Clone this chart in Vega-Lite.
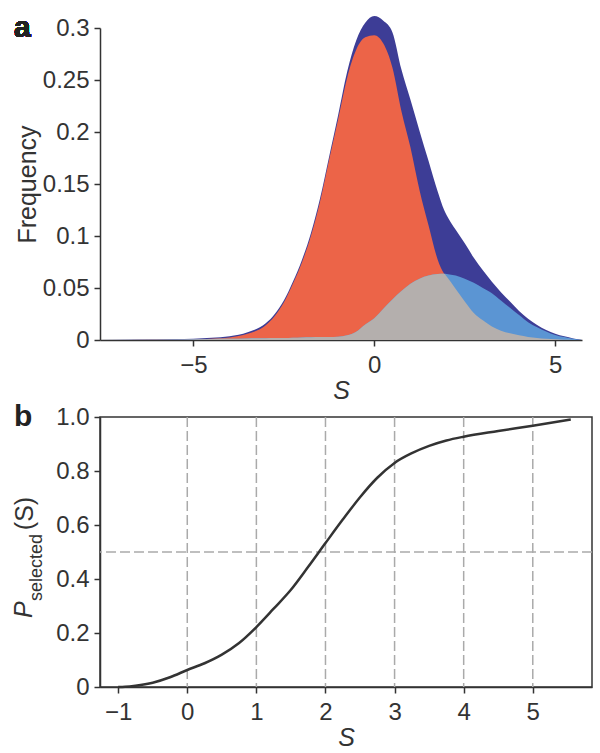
{
  "$schema": "https://vega.github.io/schema/vega-lite/v6.json",
  "autosize": {"type": "pad"},
  "padding": {"left": 11, "top": 13, "right": 0, "bottom": 0},
  "bounds": "flush",
  "spacing": 77,
  "background": "white",
  "config": {
    "font": "Liberation Sans",
    "view": {"stroke": null},
    "axis": {
      "domainColor": "#333333", "domainWidth": 1.5,
      "tickColor": "#333333", "tickWidth": 1.5, "tickSize": 6,
      "labelFont": "Liberation Sans", "labelFontSize": 24, "labelColor": "#333333",
      "labelPadding": 5, "labelFlush": false, "labelOverlap": false,
      "titleFont": "Liberation Sans", "titleFontSize": 25, "titleFontWeight": "normal", "titleColor": "#333333",
      "grid": false
    },
    "axisX": {"titleFontStyle": "italic", "titlePadding": 1, "labelPadding": 7},
    "axisY": {"titlePadding": 2}
  },
  "datasets": {
    "dist": [
      {"S": -7.58, "total": 0, "unsel": 0, "sel": 0, "both": 0},
      {"S": -6, "total": 0.0005, "unsel": 0.0002, "sel": 0.0003, "both": 0.0002},
      {"S": -5, "total": 0.0012, "unsel": 0.0005, "sel": 0.0007, "both": 0.0005},
      {"S": -4.5, "total": 0.0022, "unsel": 0.0012, "sel": 0.001, "both": 0.001},
      {"S": -4, "total": 0.0037, "unsel": 0.0025, "sel": 0.0012, "both": 0.0012},
      {"S": -3.5, "total": 0.0075, "unsel": 0.006, "sel": 0.0015, "both": 0.0015},
      {"S": -3, "total": 0.016, "unsel": 0.0142, "sel": 0.0018, "both": 0.0018},
      {"S": -2.75, "total": 0.025, "unsel": 0.023, "sel": 0.002, "both": 0.002},
      {"S": -2.5, "total": 0.038, "unsel": 0.036, "sel": 0.002, "both": 0.002},
      {"S": -2.25, "total": 0.056, "unsel": 0.054, "sel": 0.0022, "both": 0.0022},
      {"S": -2, "total": 0.077, "unsel": 0.0745, "sel": 0.0025, "both": 0.0025},
      {"S": -1.75, "total": 0.103, "unsel": 0.1003, "sel": 0.0027, "both": 0.0027},
      {"S": -1.5, "total": 0.136, "unsel": 0.133, "sel": 0.003, "both": 0.003},
      {"S": -1.25, "total": 0.176, "unsel": 0.173, "sel": 0.003, "both": 0.003},
      {"S": -1, "total": 0.216, "unsel": 0.212, "sel": 0.0032, "both": 0.0032},
      {"S": -0.75, "total": 0.258, "unsel": 0.252, "sel": 0.0045, "both": 0.0045},
      {"S": -0.5, "total": 0.288, "unsel": 0.279, "sel": 0.008, "both": 0.008},
      {"S": -0.25, "total": 0.305, "unsel": 0.291, "sel": 0.015, "both": 0.015},
      {"S": 0, "total": 0.3115, "unsel": 0.293, "sel": 0.021, "both": 0.021},
      {"S": 0.25, "total": 0.307, "unsel": 0.285, "sel": 0.030, "both": 0.030},
      {"S": 0.5, "total": 0.296, "unsel": 0.262, "sel": 0.039, "both": 0.039},
      {"S": 0.75, "total": 0.260, "unsel": 0.220, "sel": 0.047, "both": 0.047},
      {"S": 1, "total": 0.231, "unsel": 0.185, "sel": 0.054, "both": 0.054},
      {"S": 1.25, "total": 0.201, "unsel": 0.144, "sel": 0.059, "both": 0.059},
      {"S": 1.5, "total": 0.172, "unsel": 0.110, "sel": 0.062, "both": 0.062},
      {"S": 1.75, "total": 0.143, "unsel": 0.0775, "sel": 0.0635, "both": 0.0635},
      {"S": 1.93, "total": 0.125, "unsel": 0.0638, "sel": 0.0638, "both": 0.0638},
      {"S": 2, "total": 0.120, "unsel": 0.061, "sel": 0.0635, "both": 0.061},
      {"S": 2.25, "total": 0.106, "unsel": 0.049, "sel": 0.062, "both": 0.049},
      {"S": 2.5, "total": 0.093, "unsel": 0.037, "sel": 0.059, "both": 0.037},
      {"S": 2.75, "total": 0.079, "unsel": 0.026, "sel": 0.055, "both": 0.026},
      {"S": 3, "total": 0.067, "unsel": 0.019, "sel": 0.050, "both": 0.019},
      {"S": 3.25, "total": 0.056, "unsel": 0.013, "sel": 0.045, "both": 0.013},
      {"S": 3.5, "total": 0.046, "unsel": 0.009, "sel": 0.038, "both": 0.009},
      {"S": 3.75, "total": 0.037, "unsel": 0.0065, "sel": 0.031, "both": 0.0065},
      {"S": 4, "total": 0.028, "unsel": 0.0045, "sel": 0.024, "both": 0.0045},
      {"S": 4.25, "total": 0.0205, "unsel": 0.003, "sel": 0.017, "both": 0.003},
      {"S": 4.5, "total": 0.0145, "unsel": 0.002, "sel": 0.0122, "both": 0.002},
      {"S": 4.75, "total": 0.0095, "unsel": 0.0012, "sel": 0.0082, "both": 0.0012},
      {"S": 5, "total": 0.006, "unsel": 0.0007, "sel": 0.0048, "both": 0.0007},
      {"S": 5.25, "total": 0.0035, "unsel": 0.0003, "sel": 0.0028, "both": 0.0003},
      {"S": 5.5, "total": 0.0015, "unsel": 0.0001, "sel": 0.0012, "both": 0.0001},
      {"S": 5.74, "total": 0, "unsel": 0, "sel": 0, "both": 0}
    ],
    "psel": [
      {"S": -1.0, "P": 0},
      {"S": -0.9, "P": 0.001},
      {"S": -0.75, "P": 0.005},
      {"S": -0.5, "P": 0.016},
      {"S": -0.25, "P": 0.036},
      {"S": 0, "P": 0.063},
      {"S": 0.25, "P": 0.088},
      {"S": 0.5, "P": 0.12},
      {"S": 0.75, "P": 0.163},
      {"S": 1.0, "P": 0.222},
      {"S": 1.25, "P": 0.29},
      {"S": 1.5, "P": 0.36},
      {"S": 1.75, "P": 0.445},
      {"S": 2.0, "P": 0.533},
      {"S": 2.25, "P": 0.62},
      {"S": 2.5, "P": 0.703},
      {"S": 2.75, "P": 0.775},
      {"S": 3.0, "P": 0.83},
      {"S": 3.25, "P": 0.866},
      {"S": 3.5, "P": 0.893},
      {"S": 3.75, "P": 0.913},
      {"S": 4.0, "P": 0.927},
      {"S": 4.5, "P": 0.948},
      {"S": 5.0, "P": 0.968},
      {"S": 5.55, "P": 0.991}
    ],
    "vgrid": [{"g": 0}, {"g": 1}, {"g": 2}, {"g": 3}, {"g": 4}, {"g": 5}],
    "hgrid": [{"h": 0.5}]
  },
  "vconcat": [
    {
      "width": 482,
      "height": 312,
      "data": {"name": "dist"},
      "encoding": {
        "x": {"field": "S", "type": "quantitative", "title": "S",
              "scale": {"domain": [-7.58, 5.74], "nice": false, "zero": false},
              "axis": {"values": [-5, 0, 5], "format": "~g"}}
      },
      "layer": [
        {"mark": {"type": "area", "color": "#3d3d96", "interpolate": "monotone"},
         "encoding": {"y": {"field": "total", "type": "quantitative", "title": "Frequency",
           "scale": {"domain": [0, 0.3], "nice": false},
           "axis": {"values": [0, 0.05, 0.1, 0.15, 0.2, 0.25, 0.3], "format": "~g"}}}},
        {"mark": {"type": "area", "color": "#ec6448", "interpolate": "monotone"},
         "encoding": {"y": {"field": "unsel", "type": "quantitative", "title": "Frequency"}}},
        {"mark": {"type": "area", "color": "#5b95d3", "interpolate": "monotone"},
         "encoding": {"y": {"field": "sel", "type": "quantitative", "title": "Frequency"}}},
        {"mark": {"type": "area", "color": "#b4afad", "interpolate": "monotone"},
         "encoding": {"y": {"field": "both", "type": "quantitative", "title": "Frequency"}}},
        {"mark": {"type": "text", "text": "a", "fontWeight": "bold", "fontSize": 30, "align": "left", "baseline": "middle", "dx": -86, "color": "#222222"},
         "encoding": {"x": {"datum": -7.58}, "y": {"datum": 0.3}}}
      ]
    },
    {
      "width": 492,
      "height": 270,
      "view": {"stroke": "#333333", "strokeWidth": 1.5},
      "layer": [
        {"data": {"name": "vgrid"},
         "mark": {"type": "rule", "color": "#aaaaaa", "strokeWidth": 1.5, "strokeDash": [10, 4]},
         "encoding": {"x": {"field": "g", "type": "quantitative", "title": "S",
           "scale": {"domain": [-1.263, 5.857], "nice": false, "zero": false},
           "axis": {"values": [-1, 0, 1, 2, 3, 4, 5], "format": "~g"}}}},
        {"data": {"name": "hgrid"},
         "mark": {"type": "rule", "color": "#aaaaaa", "strokeWidth": 1.5, "strokeDash": [10, 4]},
         "encoding": {"y": {"field": "h", "type": "quantitative", "title": null,
           "scale": {"domain": [0, 1], "nice": false},
           "axis": {"values": [0, 0.2, 0.4, 0.6, 0.8, 1.0], "labelExpr": "datum.value === 0 ? '0' : format(datum.value, '.1f')"}}}},
        {"data": {"name": "psel"},
         "mark": {"type": "line", "color": "#333333", "strokeWidth": 2.5, "interpolate": "monotone"},
         "encoding": {
           "x": {"field": "S", "type": "quantitative", "title": "S"},
           "y": {"field": "P", "type": "quantitative", "title": null}}},
        {"data": {"values": [{}]},
         "mark": {"type": "text", "text": "b", "fontWeight": "bold", "fontSize": 30, "align": "left", "baseline": "middle", "dx": -86, "color": "#222222"},
         "encoding": {"x": {"datum": -1.263}, "y": {"datum": 1.0}}},
        {"data": {"values": [{}]},
         "mark": {"type": "text", "text": "P", "fontStyle": "italic", "fontSize": 25, "angle": 270, "align": "left", "baseline": "alphabetic", "dy": -68, "color": "#333333"},
         "encoding": {"x": {"datum": -1.263}, "y": {"datum": 0.2556}}},
        {"data": {"values": [{}]},
         "mark": {"type": "text", "text": "selected", "fontSize": 18, "angle": 270, "align": "left", "baseline": "alphabetic", "dy": -58, "color": "#333333"},
         "encoding": {"x": {"datum": -1.263}, "y": {"datum": 0.3185}}},
        {"data": {"values": [{}]},
         "mark": {"type": "text", "text": "(S)", "fontSize": 25, "angle": 270, "align": "left", "baseline": "alphabetic", "dy": -67, "color": "#333333"},
         "encoding": {"x": {"datum": -1.263}, "y": {"datum": 0.581}}}
      ]
    }
  ]
}
